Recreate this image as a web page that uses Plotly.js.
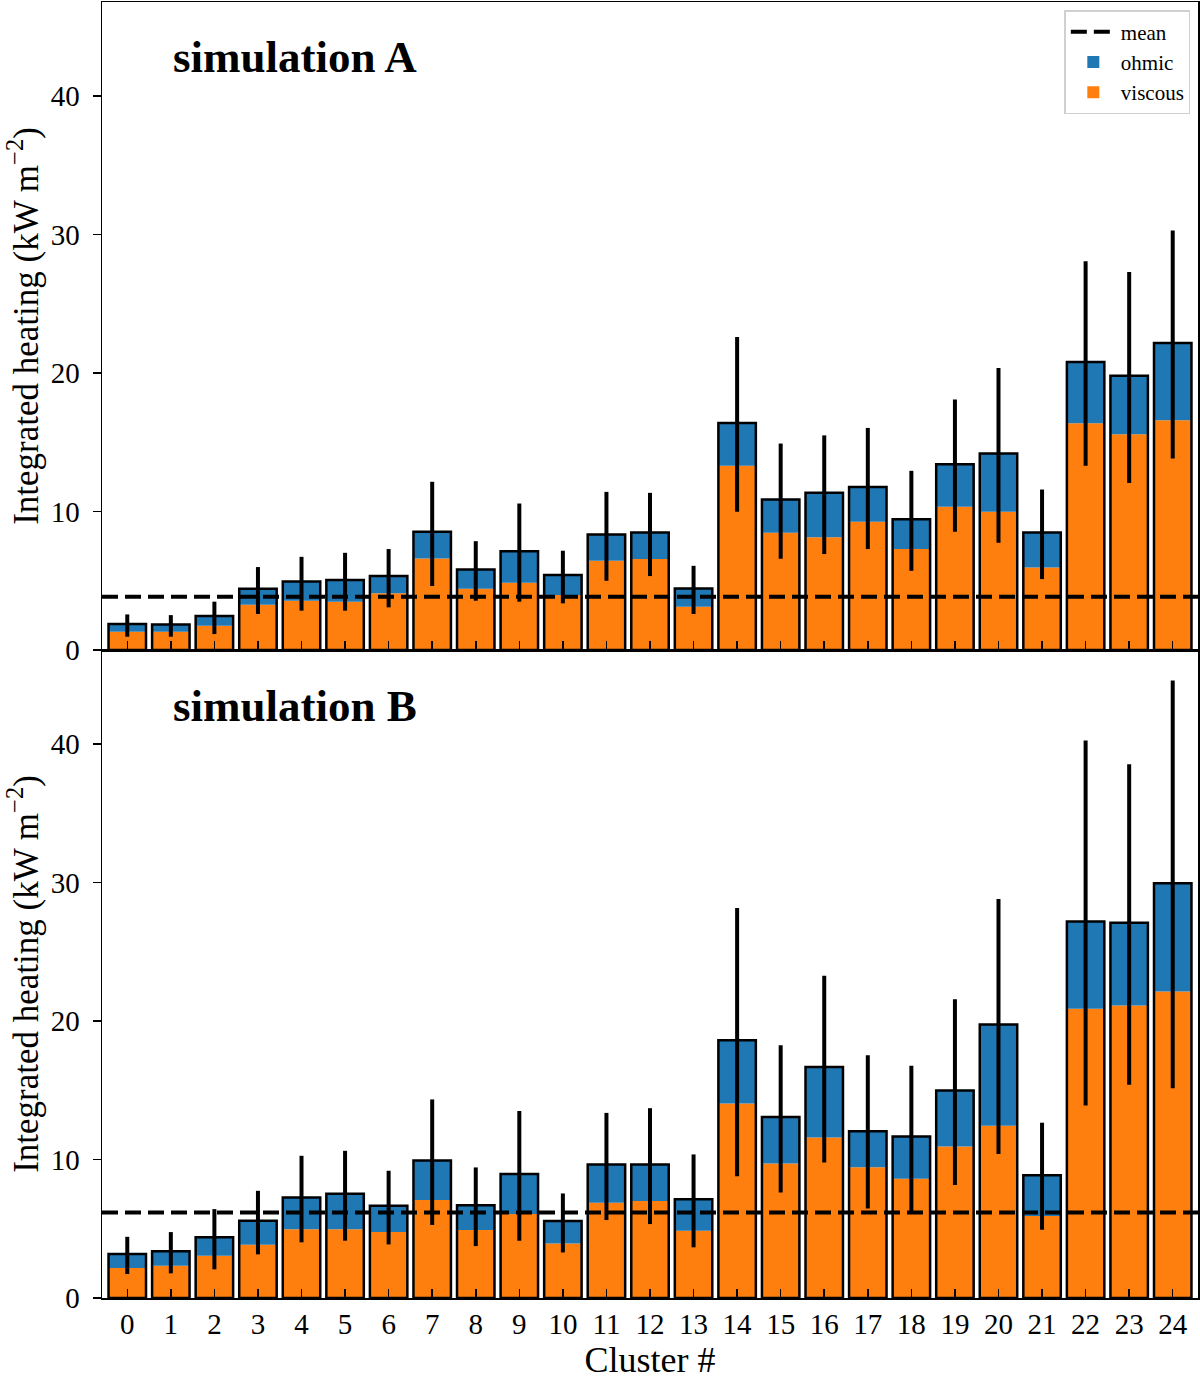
<!DOCTYPE html>
<html>
<head>
<meta charset="utf-8">
<script src="https://cdn.plot.ly/plotly-3.0.1.min.js"></script>
<style>html,body{margin:0;padding:0;background:#fff;}</style>
</head>
<body>
<div id="chart" style="width:1200px;height:1380px;"></div>
<script>
// ---- data ----
const clusters = [0,1,2,3,4,5,6,7,8,9,10,11,12,13,14,15,16,17,18,19,20,21,22,23,24];
const tickLabels = clusters.map(String);

// simulation A
const viscousA = [1.32,1.32,1.76,3.27,3.56,3.49,4.09,6.61,4.43,4.86,3.97,6.45,6.57,3.13,13.3,8.46,8.15,9.26,7.29,10.34,9.98,5.96,16.38,15.58,16.6];
const ohmicA   = [0.56,0.53,0.69,1.16,1.39,1.56,1.25,1.93,1.39,2.28,1.44,1.90,1.92,1.32,3.10,2.41,3.20,2.52,2.16,3.08,4.21,2.53,4.42,4.22,5.57];
const errHighA = [2.57,2.52,3.49,5.99,6.73,7.02,7.29,12.15,7.86,10.58,7.17,11.42,11.35,6.08,22.6,14.91,15.5,16.04,12.94,18.09,20.37,11.59,28.07,27.3,30.3];
const errLowA  = [0.96,0.96,1.15,2.6,2.84,2.84,3.08,4.62,3.56,3.49,3.37,5.0,5.34,2.6,9.98,6.59,6.93,7.29,5.72,8.54,7.74,5.12,13.3,12.07,13.83];
const meanA = 3.85;

// simulation B
const viscousB = [2.16,2.33,3.05,3.85,4.96,4.96,4.76,7.07,4.91,6.06,3.94,6.88,7.0,4.86,14.05,9.72,11.59,9.45,8.61,10.95,12.44,5.92,20.89,21.13,22.14];
const ohmicB   = [1.01,1.04,1.33,1.73,2.30,2.57,1.90,2.86,1.78,2.89,1.62,2.76,2.64,2.28,4.56,3.36,5.10,2.60,3.06,4.04,7.31,2.95,6.31,5.98,7.82];
const errHighB = [4.42,4.76,6.42,7.74,10.27,10.63,9.19,14.34,9.43,13.51,7.55,13.37,13.71,10.37,28.16,18.25,23.28,17.53,16.78,21.57,28.82,12.66,40.26,38.55,44.59];
const errLowB  = [1.73,1.78,2.07,3.15,4.02,4.14,3.87,5.27,3.75,4.14,3.29,5.63,5.34,3.66,8.8,7.62,9.79,6.46,6.28,8.16,10.4,4.93,13.91,15.4,15.14];
const meanB = 6.18;

const yTicks = [0,10,20,30,40];

// ---- styling ----
const BLUE = '#1f77b4', ORANGE = '#ff7f0e';
const FONT = 'Liberation Serif, DejaVu Serif, serif';
const XR = [-0.58, 24.58];
const BW = 0.86;

function panel(visc, ohm, hi, lo, mean, xa, ya, showLeg) {
  const total = visc.map((v, i) => v + ohm[i]);
  return [
    {type:'bar', x:clusters, y:visc, width:BW, xaxis:xa, yaxis:ya, name:'viscous',
     marker:{color:ORANGE, line:{width:0}}, showlegend:showLeg, legendrank:3, hoverinfo:'skip'},
    {type:'bar', x:clusters, y:ohm, base:visc, width:BW, xaxis:xa, yaxis:ya, name:'ohmic',
     marker:{color:BLUE, line:{width:0}}, showlegend:showLeg, legendrank:2, hoverinfo:'skip'},
    {type:'bar', x:clusters, y:total, width:BW, xaxis:xa, yaxis:ya, name:'total',
     marker:{color:'rgba(0,0,0,0)', line:{color:'#000', width:2.5}}, showlegend:false,
     error_y:{type:'data', symmetric:false,
              array: hi.map((h, i) => h - total[i]),
              arrayminus: lo.map((l, i) => total[i] - l),
              color:'#000', thickness:4, width:0}, hoverinfo:'skip'},
    {type:'scatter', mode:'lines', x:XR, y:[mean, mean], xaxis:xa, yaxis:ya, name:'mean',
     line:{color:'#000', width:4, dash:'16px,7px'}, showlegend:showLeg, legendrank:1, hoverinfo:'skip'}
  ];
}

const data = [].concat(
  panel(viscousA, ohmicA, errHighA, errLowA, meanA, 'x2', 'y2', true),
  panel(viscousB, ohmicB, errHighB, errLowB, meanB, 'x', 'y', false)
);

const yBase = {
  range:[0, 46.8], tickvals:yTicks, ticks:'outside', ticklen:8, tickwidth:1.5, tickcolor:'#000',
  ticklabelstandoff:7,
  showline:true, linecolor:'#000', linewidth:1.5, mirror:true, showgrid:false, zeroline:false,
  tickfont:{family:FONT, size:29, color:'#000'},
  title:{text:'Integrated heating (kW m<sup>\u22122</sup>)', font:{family:FONT, size:35, color:'#000'}, standoff:1}
};
const xBase = {
  range:XR, tickvals:clusters, ticktext:tickLabels, ticks:'inside', ticklen:9, tickwidth:1.5, tickcolor:'#000',
  showline:true, linecolor:'#000', linewidth:1.5, mirror:true, showgrid:false, zeroline:false,
  tickfont:{family:FONT, size:29, color:'#000'}
};

const layout = {
  width:1200, height:1380,
  margin:{l:102, r:2, t:2, b:82},
  paper_bgcolor:'#fff', plot_bgcolor:'#fff',
  barmode:'overlay',
  showlegend:true,
  font:{family:FONT, color:'#000'},
  xaxis: Object.assign({}, xBase, {anchor:'y', title:{text:'Cluster #', font:{family:FONT, size:36, color:'#000'}, standoff:4}}),
  xaxis2: Object.assign({}, xBase, {anchor:'y2', matches:'x', showticklabels:false}),
  yaxis: Object.assign({}, yBase, {domain:[0, 0.5], anchor:'x'}),
  yaxis2: Object.assign({}, yBase, {domain:[0.5, 1], anchor:'x2'}),
  legend:{x:0.993, xanchor:'right', y:0.9938, yanchor:'top', bgcolor:'#fff', bordercolor:'#d0d0d0', borderwidth:1.5,
          font:{family:FONT, size:21, color:'#000'}, itemwidth:45, tracegroupgap:0},
  annotations:[
    {text:'<b>simulation A</b>', xref:'paper', yref:'paper', x:0.063, y:0.9576, xanchor:'left', yanchor:'middle',
     showarrow:false, font:{family:FONT, size:45, color:'#000'}},
    {text:'<b>simulation B</b>', xref:'paper', yref:'paper', x:0.063, y:0.4568, xanchor:'left', yanchor:'middle',
     showarrow:false, font:{family:FONT, size:45, color:'#000'}}
  ]
};

Plotly.newPlot('chart', data, layout, {staticPlot:true, displayModeBar:false});
</script>
</body>
</html>
